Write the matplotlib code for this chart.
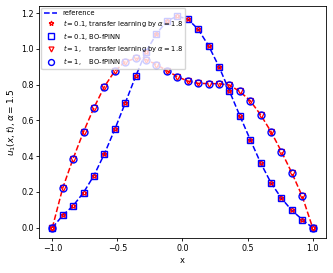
import matplotlib
matplotlib.use('Agg')
import matplotlib.pyplot as plt
from matplotlib.ticker import MultipleLocator

# sample points
x = [-1.0, -0.92, -0.84, -0.76, -0.68, -0.60, -0.52, -0.44, -0.36, -0.28, -0.20, -0.12, -0.04,
     0.04, 0.12, 0.20, 0.28, 0.36, 0.44, 0.52, 0.60, 0.68, 0.76, 0.84, 0.92, 1.0]

# t = 0.1
ref_t01 = [0.0, 0.069, 0.123, 0.197, 0.292, 0.413, 0.550, 0.697, 0.846, 0.985, 1.083, 1.157, 1.182,
           1.167, 1.110, 1.018, 0.901, 0.765, 0.627, 0.493, 0.363, 0.251, 0.165, 0.097, 0.046, 0.0]
tl_t01 = ref_t01
bo_t01 = ref_t01

# t = 1
ref_t1 = [0.0, 0.222, 0.387, 0.537, 0.671, 0.789, 0.876, 0.928, 0.947, 0.940, 0.912, 0.878, 0.845,
          0.820, 0.807, 0.806, 0.805, 0.798, 0.762, 0.710, 0.632, 0.537, 0.426, 0.307, 0.176, 0.0]
tl_t1 = ref_t1
bo_t1 = ref_t1

fig = plt.figure(figsize=(3.33, 2.73), dpi=100)
ax = fig.add_axes([0.118, 0.127, 0.860, 0.852])

ax.plot(x, ref_t01, 'b--', lw=1.1, label='reference')
ax.plot(x, ref_t1, 'r--', lw=1.1)

ax.plot(x, tl_t01, '*', ms=4.2, mfc='none', mec='r', mew=0.9,
        label=r'$t=0.1$, transfer learning by $\alpha=1.8$')
ax.plot(x, bo_t01, 's', ms=5.0, mfc='none', mec='b', mew=1.0,
        label=r'$t=0.1$, BO-fPINN')
ax.plot(x, tl_t1, 'v', ms=4.2, mfc='none', mec='r', mew=0.9,
        label=r'$t=1$,    transfer learning by $\alpha=1.8$')
ax.plot(x, bo_t1, 'o', ms=5.0, mfc='none', mec='b', mew=1.0,
        label=r'$t=1$,    BO-fPINN')

ax.xaxis.set_major_locator(MultipleLocator(0.5))
ax.set_xlabel('x', fontsize=6, labelpad=2)
ax.set_ylabel(r'$u_1(x,t),\alpha=1.5$', fontsize=6.5, labelpad=2)
ax.tick_params(labelsize=5.8, length=2, width=0.6, pad=2)
for s in ax.spines.values():
    s.set_linewidth(0.6)

ax.legend(loc='upper left', fontsize=4.9, borderaxespad=0.3, handlelength=2.0,
          numpoints=1, markerscale=0.85, labelspacing=0.25, borderpad=0.35,
          framealpha=0.8, edgecolor='0.8', fancybox=True)

plt.savefig('out.png', dpi=100)
